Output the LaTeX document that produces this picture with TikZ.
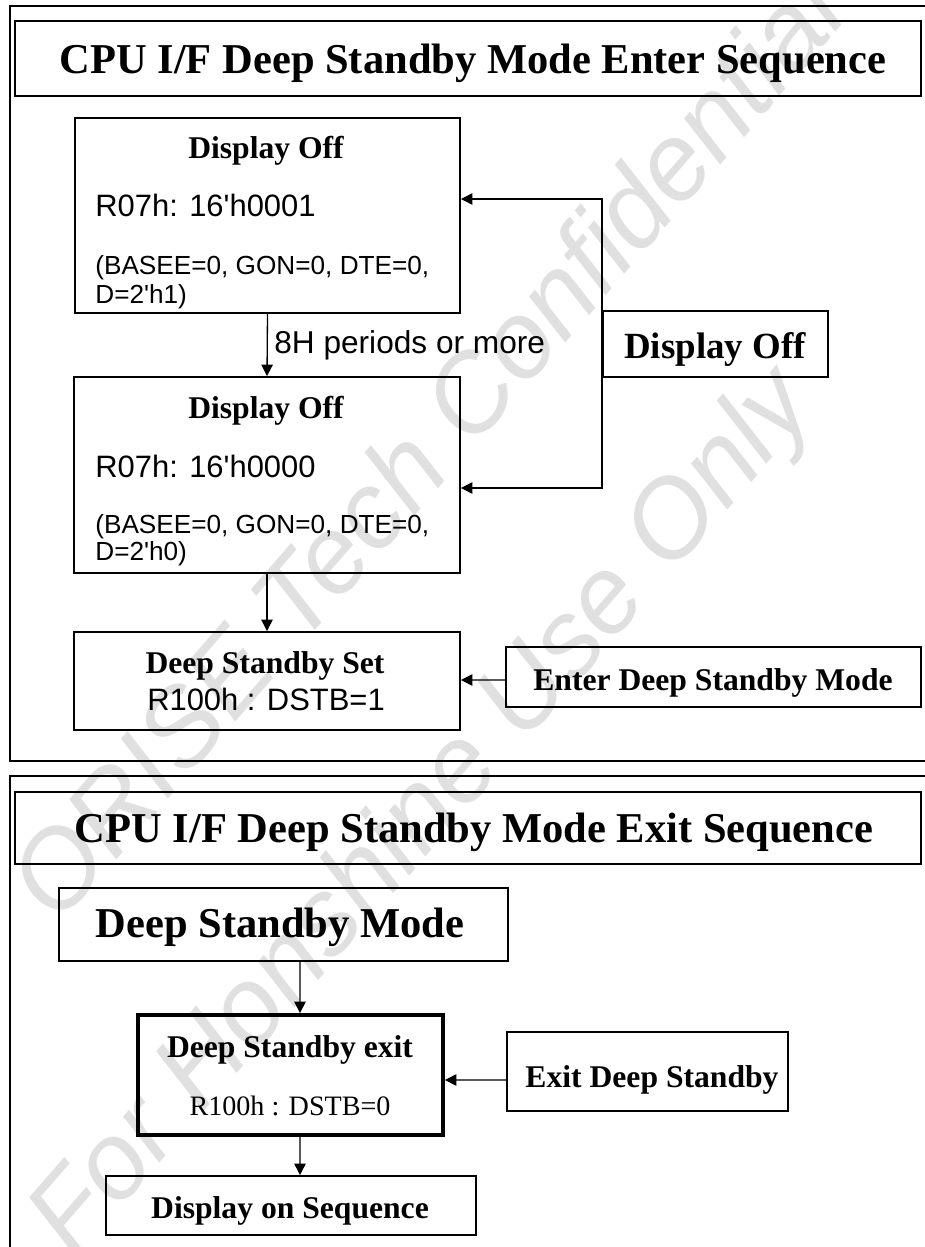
\documentclass[tikz,border=0pt]{standalone}
\usepackage{fontspec}
\setmainfont{Liberation Serif}
\setsansfont{Liberation Sans}
\usetikzlibrary{arrows.meta}

\newcommand{\pxu}{0.02cm}

\tikzset{
  box/.style 2 args={draw, line width=1.1pt, inner sep=0pt,
    minimum width=#1*\pxu, minimum height=#2*\pxu},
  ttl/.style={inner sep=0pt, anchor=base, font=\bfseries\fontsize{24.2}{28}\selectfont},
  hd/.style={inner sep=0pt, anchor=base, font=\bfseries\fontsize{18}{21}\selectfont},
  reg/.style={inner sep=0pt, anchor=base west, font=\sffamily\fontsize{17.6}{20}\selectfont},
  sm/.style={inner sep=0pt, anchor=base west, font=\sffamily\fontsize{14.9}{18}\selectfont},
  wmark/.style={text=black!12, rotate=49, inner sep=0pt,
    font=\sffamily\itshape\fontsize{62}{70}\selectfont},
  arr/.style={-{Triangle[length=6.5pt,width=6.5pt]}, line width=0.75pt}
}

\begin{document}
\begin{tikzpicture}[x=0.02cm, y=-0.02cm]
\useasboundingbox (0,0) rectangle (924,1247);

% Watermark
\node[wmark] (wm1) at (425,445) {ORISE Tech Confidential};
\node[wmark] (wm2) at (425,815) {For Honshine Use Only};

% Frames
\draw[line width=1.1pt] (10,6) rectangle (940,761);
\draw[line width=1.1pt] (10,776) rectangle (940,1270);

% Enter sequence
\node[box={906}{75}, line width=1.4pt] (t1) at (468,58.5) {};
\node[ttl] (t1txt) at (473,74) {CPU I/F Deep Standby Mode Enter Sequence};

\node[box={385}{195}] (d1) at (267.5,215.5) {};
\node[hd] (d1hd) at (266,158) {Display Off};
\node[reg] (d1a) at (95,216) {R07h: 16\textquotesingle h0001};
\node[sm] (d1b) at (95,274) {(BASEE=0, GON=0, DTE=0,};
\node[sm] (d1c) at (95,303) {D=2\textquotesingle h1)};

\node[box={386}{196}] (d2) at (267,475) {};
\node[hd] (d2hd) at (266,418) {Display Off};
\node[reg] (d2a) at (95,477) {R07h: 16\textquotesingle h0000};
\node[sm] (d2b) at (95,533) {(BASEE=0, GON=0, DTE=0,};
\node[sm] (d2c) at (95,560) {D=2\textquotesingle h0)};

\node[box={225}{66}] (doff) at (715.5,344) {};
\node[hd, font=\bfseries\fontsize{21}{24}\selectfont] (dofftxt) at (715,358) {Display Off};

\node[box={386}{98}] (dss) at (267,681) {};
\node[hd] (dsshd) at (265,673) {Deep Standby Set};
\node[reg, anchor=base] (dssa) at (266,710) {R100h : DSTB=1};

\node[box={415}{60}] (ent) at (713.5,677) {};
\node[hd] (enttxt) at (713,690) {Enter Deep Standby Mode};

% Arrows
\draw[arr] (d1.south) -- (d2.north);
\node[reg, font=\sffamily\fontsize{18}{20}\selectfont] (wait) at (274,353) {8H periods or more};
\draw[arr] (doff.west) |- ([yshift=0.33cm]d1.east);
\draw[arr] (doff.west) |- ([yshift=-0.26cm]d2.east);
\draw[arr] (d2.south) -- (dss.north);
\draw[arr] ([yshift=-0.06cm]ent.west) -- ([yshift=0.02cm]dss.east);

% Exit sequence
\node[box={906}{72}, line width=1.4pt] (t2) at (468,828) {};
\node[ttl] (t2txt) at (474,842) {CPU I/F Deep Standby Mode Exit Sequence};

\node[box={449}{73}] (dsm) at (283.5,924.5) {};
\node[ttl] (dsmtxt) at (280,937) {Deep Standby Mode};

\node[box={305}{120}, line width=2.2pt] (dsx) at (290.5,1075) {};
\node[hd] (dsxhd) at (290,1057) {Deep Standby exit};
\node[hd, font=\fontsize{16}{18}\selectfont] (dsxreg) at (290,1115) {R100h : DSTB=0};

\node[box={281}{79}] (ext) at (647.5,1071.5) {};
\node[hd] (exttxt) at (652,1087) {Exit Deep Standby};

\node[box={370}{59}] (dos) at (291,1205.5) {};
\node[hd] (dostxt) at (290,1218) {Display on Sequence};

% Arrows
\draw[arr] ([xshift=0.33cm]dsm.south) -- ([xshift=0.19cm]dsx.north);
\draw[arr] ([yshift=-0.17cm]ext.west) -- ([yshift=-0.1cm]dsx.east);
\draw[arr] ([xshift=0.19cm]dsx.south) -- ([xshift=0.18cm]dos.north);

\end{tikzpicture}
\end{document}
